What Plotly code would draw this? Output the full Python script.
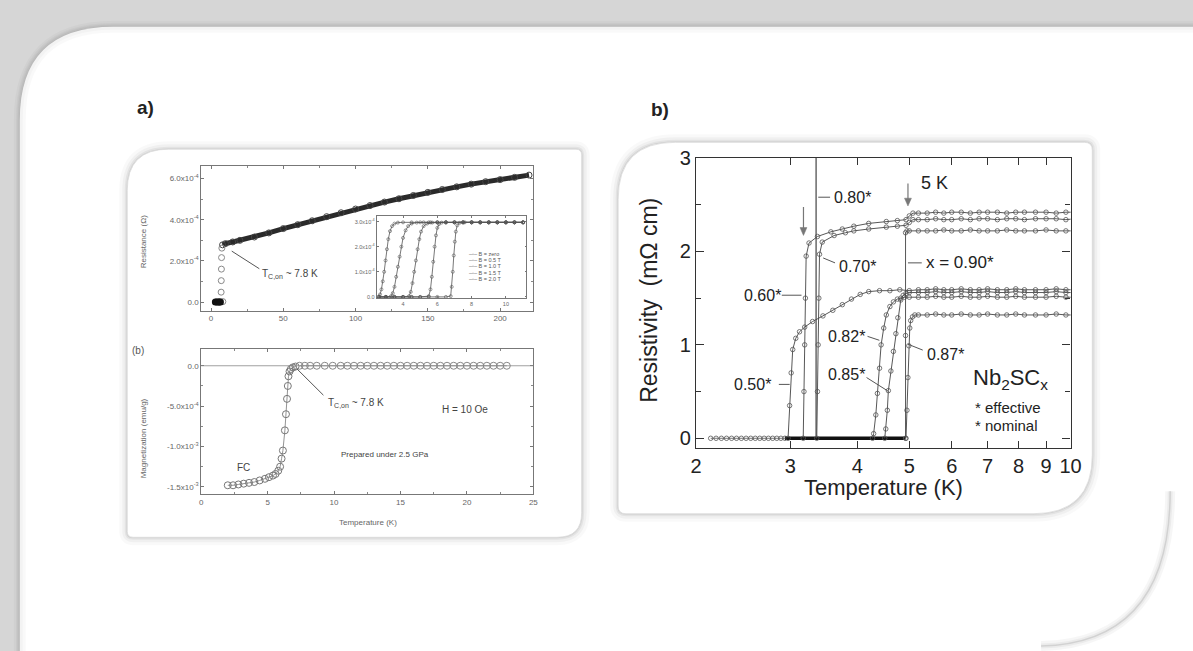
import plotly.graph_objects as go

W, H = 1193, 651
FONT = "Liberation Sans, Arial, sans-serif"

# ---------------- a) top: Resistance vs T ----------------
T_R_zero = [3.0, 4.0, 5.0, 5.8, 6.5]
R_zero = [0.0, 0.0, 0.0, 0.0, 0.0]
T_R_trans = [8.2, 7.0, 7.1, 7.2, 7.3, 7.5]
R_trans = [0.02, 0.48, 1.04, 1.6, 2.16, 2.62]
T_R_norm = [8, 10, 15, 20, 30, 40, 50, 60, 70, 80, 90, 100, 110, 120, 130, 140,
            150, 160, 170, 180, 190, 200, 210, 220]
R_norm = [2.78, 2.84, 2.92, 3.0, 3.16, 3.36, 3.57, 3.76, 3.95, 4.15, 4.34, 4.52,
          4.69, 4.86, 5.02, 5.18, 5.33, 5.47, 5.6, 5.73, 5.85, 5.95, 6.06, 6.17]
R_ticks = [0, 2, 4, 6]
R_ticktext = ["0.0", "2.0x10<sup>-4</sup>", "4.0x10<sup>-4</sup>", "6.0x10<sup>-4</sup>"]
TR_ticks = [0, 50, 100, 150, 200]

# inset: R(T) in fields
B_labels = ["B = zero", "B = 0.5 T", "B = 1.0 T", "B = 1.5 T", "B = 2.0 T"]
T_in_2T = [2.6, 2.66, 2.74, 2.82, 2.9, 2.98, 3.06, 3.14, 3.24, 3.36, 3.5, 3.7, 4.0, 4.5,
           5.0, 5.5, 6.0, 6.5, 7.0, 7.5, 8.0, 8.5, 9.0, 9.5, 10.0, 10.5, 11.0]
R_in_2T = [0.02, 0.1, 0.3, 0.62, 1.0, 1.45, 1.9, 2.3, 2.62, 2.82, 2.92, 2.96, 2.97, 2.97,
           2.97, 2.97, 2.97, 2.97, 2.97, 2.97, 2.97, 2.97, 2.97, 2.97, 2.97, 2.97, 2.97]
T_in_15T = [2.6, 3.0, 3.3, 3.4, 3.5, 3.6, 3.7, 3.8, 3.9, 4.0, 4.15, 4.3, 4.5, 4.8, 5.2,
            5.6, 6.0, 6.5, 7.0, 7.5, 8.0, 8.5, 9.0, 9.5, 10.0, 10.5, 11.0]
R_in_15T = [0.0, 0.0, 0.03, 0.15, 0.4, 0.8, 1.2, 1.6, 2.0, 2.35, 2.65, 2.82, 2.92, 2.96,
            2.97, 2.97, 2.97, 2.97, 2.97, 2.97, 2.97, 2.97, 2.97, 2.97, 2.97, 2.97, 2.97]
T_in_1T = [2.6, 3.0, 3.5, 4.0, 4.35, 4.45, 4.55, 4.65, 4.75, 4.85, 4.95, 5.05, 5.2, 5.4,
           5.7, 6.0, 6.5, 7.0, 7.5, 8.0, 8.5, 9.0, 9.5, 10.0, 10.5, 11.0]
R_in_1T = [0.0, 0.0, 0.0, 0.0, 0.03, 0.2, 0.55, 1.0, 1.45, 1.9, 2.3, 2.6, 2.82, 2.92,
           2.96, 2.97, 2.97, 2.97, 2.97, 2.97, 2.97, 2.97, 2.97, 2.97, 2.97, 2.97]
T_in_05T = [2.6, 3.0, 3.5, 4.0, 4.5, 5.0, 5.5, 5.6, 5.68, 5.76, 5.84, 5.92, 6.0, 6.1,
            6.25, 6.5, 7.0, 7.5, 8.0, 8.5, 9.0, 9.5, 10.0, 10.5, 11.0]
R_in_05T = [0.0, 0.0, 0.0, 0.0, 0.0, 0.0, 0.03, 0.3, 0.8, 1.4, 2.0, 2.45, 2.75, 2.9,
            2.96, 2.97, 2.97, 2.97, 2.97, 2.97, 2.97, 2.97, 2.97, 2.97, 2.97]
T_in_0T = [2.6, 3.0, 3.5, 4.0, 4.5, 5.0, 5.5, 6.0, 6.5, 6.78, 6.84, 6.9, 6.96, 7.02,
           7.08, 7.16, 7.3, 7.6, 8.0, 8.5, 9.0, 9.5, 10.0, 10.5, 11.0]
R_in_0T = [0.0, 0.0, 0.0, 0.0, 0.0, 0.0, 0.0, 0.0, 0.0, 0.03, 0.4, 1.0, 1.65, 2.2,
           2.6, 2.85, 2.95, 2.97, 2.97, 2.97, 2.97, 2.97, 2.97, 2.97, 2.97]
Rin_ticks = [0, 1, 2, 3]
Rin_ticktext = ["0.0", "1.0x10<sup>-4</sup>", "2.0x10<sup>-4</sup>", "3.0x10<sup>-4</sup>"]
Tin_ticks = [4, 6, 8, 10]

# ---------------- a) bottom: Magnetization vs T ----------------
T_M_sc = [2.0, 2.4, 2.8, 3.2, 3.6, 4.0, 4.4, 4.8, 5.1, 5.4, 5.6, 5.8, 5.94, 6.05, 6.15,
          6.3, 6.38, 6.46, 6.52, 6.57, 6.65, 6.75, 6.9, 7.1]
M_sc = [-1.48, -1.48, -1.47, -1.46, -1.45, -1.44, -1.42, -1.4, -1.38, -1.36, -1.34, -1.3,
        -1.25, -1.15, -1.05, -0.8, -0.6, -0.41, -0.25, -0.13, -0.07, -0.04, -0.02, -0.01]
T_M_n = [7.4, 7.8, 8.2, 8.7, 9.3, 9.9, 10.5, 11.0, 11.5, 12.0, 12.5, 13.0, 13.5, 14.0,
         14.5, 15.0, 15.5, 16.0, 16.5, 17.0, 17.5, 18.0, 18.5, 19.0, 19.5, 20.0, 20.5,
         21.0, 21.5, 22.0, 22.5, 23.0]
M_n = [0.0, 0.0, 0.0, 0.0, 0.0, 0.0, 0.0, 0.0, 0.0, 0.0, 0.0, 0.0, 0.0, 0.0, 0.0, 0.0,
       0.0, 0.0, 0.0, 0.0, 0.0, 0.0, 0.0, 0.0, 0.0, 0.0, 0.0, 0.0, 0.0, 0.0, 0.0, 0.0]
M_ticks = [0, -0.5, -1.0, -1.5]
M_ticktext = ["0.0", "-5.0x10<sup>-4</sup>", "-1.0x10<sup>-3</sup>", "-1.5x10<sup>-3</sup>"]
TM_ticks = [0, 5, 10, 15, 20, 25]

# ---------------- b) Resistivity of Nb2SCx ----------------
T_plat = [5.2, 5.4, 5.6, 5.8, 6.0, 6.25, 6.5, 6.75, 7.0, 7.3, 7.6, 7.9, 8.2, 8.6, 9.0,
          9.4, 9.8, 10.2]

T_050 = [2.97, 2.99, 3.01, 3.03, 3.07, 3.12, 3.19, 3.3, 3.45, 3.6, 3.75, 3.9, 4.05, 4.2,
         4.4, 4.6, 4.8, 5.0]
rho_050 = [0.0, 0.35, 0.7, 0.95, 1.07, 1.14, 1.19, 1.25, 1.31, 1.37, 1.43, 1.49, 1.54,
           1.57, 1.58, 1.58, 1.59, 1.58]
rho_050_plat = [1.59, 1.59, 1.60, 1.59, 1.59, 1.60, 1.59, 1.59, 1.60, 1.59, 1.59, 1.60,
                1.59, 1.59, 1.59, 1.60, 1.59, 1.59]

T_060 = [3.17, 3.18, 3.19, 3.2, 3.21, 3.25, 3.37, 3.57, 3.75, 3.94, 4.2, 4.53, 4.75,
         4.93, 5.0, 5.08]
rho_060 = [0.0, 0.5, 1.0, 1.5, 1.95, 2.09, 2.16, 2.21, 2.24, 2.27, 2.3, 2.32, 2.33, 2.34,
           2.38, 2.41]
rho_060_plat = [2.41, 2.41, 2.42, 2.41, 2.42, 2.42, 2.41, 2.42, 2.42, 2.42, 2.41, 2.42,
                2.42, 2.42, 2.42, 2.41, 2.42, 2.42]

T_070 = [3.36, 3.37, 3.38, 3.39, 3.4, 3.44, 3.62, 3.8, 3.94, 4.2, 4.53, 4.75, 4.93, 5.0,
         5.08]
rho_070 = [0.0, 0.5, 1.0, 1.5, 1.97, 2.1, 2.17, 2.2, 2.22, 2.24, 2.26, 2.27, 2.28, 2.31,
           2.34]
rho_070_plat = [2.34, 2.34, 2.35, 2.34, 2.34, 2.35, 2.34, 2.35, 2.35, 2.34, 2.35, 2.35,
                2.34, 2.35, 2.35, 2.35, 2.34, 2.35]

T_080 = [3.35, 3.35]
rho_080 = [0.0, 3.3]

T_082 = [4.27, 4.29, 4.33, 4.36, 4.4, 4.43, 4.48, 4.53, 4.6, 4.67, 4.75, 4.82, 4.9, 5.0]
rho_082 = [0.0, 0.05, 0.25, 0.48, 0.75, 1.0, 1.18, 1.32, 1.41, 1.46, 1.49, 1.5, 1.51, 1.51]
rho_082_plat = [1.51, 1.51, 1.52, 1.51, 1.51, 1.52, 1.51, 1.51, 1.52, 1.51, 1.51, 1.52,
                1.51, 1.51, 1.51, 1.52, 1.51, 1.51]

T_085 = [4.5, 4.52, 4.55, 4.57, 4.62, 4.67, 4.72, 4.76, 4.82, 4.87, 4.93, 5.0]
rho_085 = [0.0, 0.1, 0.3, 0.51, 0.72, 0.93, 1.12, 1.29, 1.48, 1.53, 1.55, 1.56]
rho_085_plat = [1.56, 1.56, 1.57, 1.56, 1.56, 1.57, 1.56, 1.56, 1.57, 1.56, 1.56, 1.57,
                1.56, 1.56, 1.56, 1.57, 1.56, 1.56]

T_087 = [4.93, 4.95, 4.97, 4.99, 5.01, 5.03, 5.07, 5.12]
rho_087 = [0.0, 0.3, 0.65, 0.99, 1.18, 1.26, 1.3, 1.32]
rho_087_plat = [1.32, 1.32, 1.33, 1.32, 1.32, 1.33, 1.32, 1.32, 1.33, 1.32, 1.32, 1.33,
                1.32, 1.32, 1.32, 1.33, 1.32, 1.32]

T_090 = [4.92, 4.92, 4.92, 4.95, 5.0]
rho_090 = [0.0, 1.1, 2.2, 2.22, 2.22]
rho_090_plat = [2.22, 2.22, 2.22, 2.23, 2.22, 2.22, 2.23, 2.22, 2.22, 2.22, 2.23, 2.22,
                2.22, 2.22, 2.23, 2.22, 2.22, 2.22]

T_base_lo = [2.13, 2.18, 2.23, 2.28, 2.33, 2.38, 2.43, 2.48, 2.53, 2.58, 2.63, 2.68,
             2.73, 2.78, 2.83, 2.88, 2.93]
rho_base_lo = [0.0, 0.0, 0.0, 0.0, 0.0, 0.0, 0.0, 0.0, 0.0, 0.0, 0.0, 0.0, 0.0, 0.0,
               0.0, 0.0, 0.0]
T_base_hi = [2.93, 3.1, 3.3, 3.5, 3.7, 3.9, 4.1, 4.3, 4.5, 4.7, 4.92]
rho_base_hi = [0.0, 0.0, 0.0, 0.0, 0.0, 0.0, 0.0, 0.0, 0.0, 0.0, 0.0]

Tb_ticks = [2, 3, 4, 5, 6, 7, 8, 9, 10]
Tb_ticktext = ["2", "3", "4", "5", "6", "7", "8", "9", "10"]
rho_ticks = [0, 1, 2, 3]


# ---------------- helpers ----------------
def fx(x):
    return x / W


def fy(y):
    return 1 - y / H


def P(x, y):
    return f"{fx(x):.5f},{fy(y):.5f}"


def rr_path(x0, y0, x1, y1, tl, tr, br, bl):
    return (f"M {P(x0, y0 + tl)} Q {P(x0, y0)} {P(x0 + tl, y0)} L {P(x1 - tr, y0)} "
            f"Q {P(x1, y0)} {P(x1, y0 + tr)} L {P(x1, y1 - br)} Q {P(x1, y1)} {P(x1 - br, y1)} "
            f"L {P(x0 + bl, y1)} Q {P(x0, y1)} {P(x0, y1 - bl)} Z")


shapes = []


def path_shape(path, line_color=None, width=0, fill=None, layer="below"):
    d = dict(type="path", path=path, xref="paper", yref="paper", layer=layer,
             line=dict(color=line_color if line_color else "rgba(0,0,0,0)", width=width))
    if fill:
        d["fillcolor"] = fill
    shapes.append(d)


def seg(x0, y0, x1, y1, color="#333", width=1, layer="above"):
    shapes.append(dict(type="line", xref="paper", yref="paper", x0=fx(x0), y0=fy(y0),
                       x1=fx(x1), y1=fy(y1), line=dict(color=color, width=width), layer=layer))


def down_arrow(x, y0, y1, color="#777"):
    seg(x, y0, x, y1 - 5, color, 1.2)
    path_shape(f"M {P(x - 3.5, y1 - 8)} L {P(x + 3.5, y1 - 8)} L {P(x, y1)} Z",
               color, 0.5, color, layer="above")


# outer page card
outer = (f"M {P(14, 700)} L {P(14, 111)} Q {P(14, 16)} {P(109, 16)} L {P(1250, 16)} "
         f"L {P(1250, 700)} Z")
for w_, c_ in [(8, "#cfcfcf"), (4, "#c8c8c8"), (1.5, "#c2c2c2")]:
    path_shape(outer, c_, w_)
path_shape(outer, None, 0, "white")
for w_ in [12, 6]:
    path_shape(outer, "rgba(0,0,0,0.025)", w_)
br_curve = f"M {P(1181, 490)} Q {P(1181, 645)} {P(1050, 648)}"
for w_, c_ in [(10, "rgba(0,0,0,0.035)"), (5, "rgba(0,0,0,0.045)"), (1.5, "#d2d2d2")]:
    path_shape(br_curve, c_, w_)

# left and right cards
for (x0, y0, x1, y1, tl, tr, br, bl) in [(123, 141, 584, 537, 42, 6, 25, 6),
                                         (621, 134, 1102, 513, 58, 8, 60, 8)]:
    p = rr_path(x0, y0, x1, y1, tl, tr, br, bl)
    for w_, c_ in [(16, "rgba(0,0,0,0.025)"), (10, "rgba(0,0,0,0.035)"),
                   (5, "rgba(0,0,0,0.05)"), (2, "rgba(0,0,0,0.07)")]:
        path_shape(p, c_, w_)
    path_shape(p, "#dcdcdc", 0.8, "white")

# ---------------- traces ----------------
fig = go.Figure()

# a) top main
fig.add_trace(go.Scatter(x=T_R_norm, y=R_norm, mode="lines+markers", xaxis="x", yaxis="y",
                         line=dict(color="#2a2a2a", width=5),
                         marker=dict(symbol="circle-open", size=6, color="#444", line=dict(width=1))))
fig.add_trace(go.Scatter(x=T_R_trans, y=R_trans, mode="markers", xaxis="x", yaxis="y",
                         marker=dict(symbol="circle-open", size=6, color="#888", line=dict(width=1))))
fig.add_trace(go.Scatter(x=T_R_zero, y=R_zero, mode="markers", xaxis="x", yaxis="y",
                         marker=dict(symbol="circle", size=7, color="#111")))

# inset
inset_sets = [(T_in_0T, R_in_0T), (T_in_05T, R_in_05T), (T_in_1T, R_in_1T),
              (T_in_15T, R_in_15T), (T_in_2T, R_in_2T)]
for tx, ry in inset_sets:
    fig.add_trace(go.Scatter(x=tx, y=ry, mode="lines+markers", xaxis="x2", yaxis="y2",
                             line=dict(color="#555", width=0.8),
                             marker=dict(symbol="circle-open", size=3, color="#555",
                                         line=dict(width=0.6))))

# a) bottom
fig.add_trace(go.Scatter(x=T_M_sc, y=M_sc, mode="lines+markers", xaxis="x3", yaxis="y3",
                         line=dict(color="#777", width=0.8),
                         marker=dict(symbol="circle-open", size=7, color="#777", line=dict(width=1))))
fig.add_trace(go.Scatter(x=T_M_n, y=M_n, mode="lines+markers", xaxis="x3", yaxis="y3",
                         line=dict(color="#888", width=0.8),
                         marker=dict(symbol="circle-open", size=7, color="#888", line=dict(width=1))))

# b)
mk = dict(symbol="circle-open", size=4.5, color="#555", line=dict(width=0.8))
ln = dict(color="#444", width=0.9)
fig.add_trace(go.Scatter(x=T_base_lo, y=rho_base_lo, mode="lines+markers", xaxis="x4", yaxis="y4",
                         line=dict(color="#777", width=1), marker=mk))
fig.add_trace(go.Scatter(x=T_base_hi, y=rho_base_hi, mode="lines", xaxis="x4", yaxis="y4",
                         line=dict(color="#111", width=3.5)))
fig.add_trace(go.Scatter(x=T_080, y=rho_080, mode="lines", xaxis="x4", yaxis="y4",
                         line=dict(color="#333", width=1.1)))
for tt, rr, rp in [(T_050, rho_050, rho_050_plat), (T_060, rho_060, rho_060_plat),
                   (T_070, rho_070, rho_070_plat), (T_082, rho_082, rho_082_plat),
                   (T_085, rho_085, rho_085_plat), (T_087, rho_087, rho_087_plat),
                   (T_090, rho_090, rho_090_plat)]:
    fig.add_trace(go.Scatter(x=tt + T_plat, y=rr + rp, mode="lines+markers",
                             xaxis="x4", yaxis="y4", line=ln, marker=mk))

# ---------------- annotations ----------------
anns = []


def ann(x, y, text, size, color="#222", xanchor="left", yanchor="middle", angle=0):
    anns.append(dict(x=fx(x), y=fy(y), xref="paper", yref="paper", text=text, showarrow=False,
                     xanchor=xanchor, yanchor=yanchor, textangle=angle,
                     font=dict(size=size, color=color, family=FONT)))


ann(131, 98, "<b>a)</b>", 19, "#222")
ann(652, 100, "<b>b)</b>", 19, "#222")

# left panel texts
ann(258, 268, "T<sub>C,on</sub> ~ 7.8 K", 10, "#444")
seg(229, 245, 257, 263, "#555", 1)
ann(325, 400, "T<sub>C,on</sub> ~ 7.8 K", 10, "#444")
seg(295, 365, 322, 392, "#555", 1)
ann(440, 407, "H = 10 Oe", 10, "#444")
ann(338, 453, "Prepared under 2.5 GPa", 8, "#444")
ann(232, 466, "FC", 10, "#444")
ann(134, 346, "(b)", 10, "#555", "center")
ann(139, 236, "Resistance (Ω)", 8, "#666", "center", "middle", -90)
ann(139, 436, "Magnetization (emu/g)", 8, "#666", "center", "middle", -90)
ann(367, 522, "Temperature (K)", 8, "#666", "center", "middle")
for i, lab in enumerate(B_labels):
    ann(468, 248 + i * 6.3, "–◦– " + lab, 5.5, "#555")

# right panel texts
ann(838, 190, "0.80*", 16)
seg(824, 190, 836, 190, "#555", 1)
ann(843, 261, "0.70*", 16)
seg(829, 252, 841, 257, "#555", 1)
ann(747, 290, "0.60*", 16)
seg(787, 290, 807, 290, "#555", 1)
ann(737, 381, "0.50*", 16)
seg(784, 381, 795, 381, "#555", 1)
ann(832, 332, "0.82*", 16)
seg(874, 332, 886, 336, "#555", 1)
ann(832, 371, "0.85*", 16)
seg(873, 374, 895, 388, "#555", 1)
ann(932, 350, "0.87*", 16)
seg(915, 340, 930, 346, "#555", 1)
ann(931, 257, "x = 0.90*", 17)
seg(915, 257, 929, 257, "#555", 1)
ann(926, 175, "5 K", 18)
down_arrow(809, 200, 229)
down_arrow(915, 176, 199)
ann(979, 375, "Nb<sub>2</sub>SC<sub>x</sub>", 22)
ann(981, 405, "* effective", 15)
ann(981, 423, "* nominal", 15)
ann(652, 295, "Resistivity  (mΩ cm)", 23, "#222", "center", "middle", -90)
ann(890, 486, "Temperature (K)", 22, "#222", "center", "middle")


# ---------------- axes ----------------
def left_axis(**kw):
    d = dict(showline=True, linecolor="#777", linewidth=0.8, mirror="ticks", ticks="inside",
             ticklen=3, tickcolor="#777", tickwidth=0.8, showgrid=False, zeroline=False,
             tickfont=dict(size=8, color="#666", family=FONT))
    d.update(kw)
    return d


layout = dict(
    width=W, height=H, autosize=False, margin=dict(l=0, r=0, t=0, b=0),
    paper_bgcolor="#d6d6d6", plot_bgcolor="rgba(0,0,0,0)", showlegend=False,
    shapes=shapes, annotations=anns,
    xaxis=left_axis(domain=[fx(198), fx(535)], range=[-6.8, 223], tickvals=TR_ticks,
                    minor=dict(ticks="inside", ticklen=2, tickcolor="#888", dtick=25),
                    anchor="y"),
    yaxis=left_axis(domain=[fy(306), fy(158)], range=[-0.43, 6.62], tickvals=R_ticks,
                    ticktext=R_ticktext,
                    minor=dict(ticks="inside", ticklen=2, tickcolor="#888", dtick=1),
                    anchor="x"),
    xaxis2=left_axis(domain=[fx(376), fx(528)], range=[2.46, 11.2], tickvals=Tin_ticks,
                     ticklen=2, tickfont=dict(size=5.5, color="#666", family=FONT),
                     anchor="y2"),
    yaxis2=left_axis(domain=[fy(293), fy(209)], range=[-0.05, 3.23], tickvals=Rin_ticks,
                     ticktext=Rin_ticktext, ticklen=2,
                     tickfont=dict(size=5.5, color="#666", family=FONT), anchor="x2"),
    xaxis3=left_axis(domain=[fx(198), fx(535)], range=[0, 25], tickvals=TM_ticks,
                     minor=dict(ticks="inside", ticklen=2, tickcolor="#888", dtick=2.5),
                     anchor="y3"),
    yaxis3=left_axis(domain=[fy(493), fy(345)], range=[-1.59, 0.206], tickvals=M_ticks,
                     ticktext=M_ticktext,
                     minor=dict(ticks="inside", ticklen=2, tickcolor="#888", dtick=0.25),
                     anchor="x3"),
    xaxis4=dict(domain=[fx(700), fx(1080)], type="log", range=[0.30103, 1.0],
                tickvals=Tb_ticks, ticktext=Tb_ticktext, showline=True, linecolor="#333",
                linewidth=1.3, mirror="ticks", ticks="inside", ticklen=7, tickcolor="#333",
                showgrid=False, zeroline=False,
                tickfont=dict(size=20, color="#222", family=FONT), anchor="y4"),
    yaxis4=dict(domain=[fy(446), fy(150)], range=[-0.105, 3.0], tickvals=rho_ticks,
                showline=True, linecolor="#333", linewidth=1.3, mirror="ticks",
                ticks="inside", ticklen=8, tickcolor="#333", showgrid=False, zeroline=False,
                minor=dict(ticks="inside", ticklen=5, tickcolor="#333", dtick=0.5),
                tickfont=dict(size=20, color="#222", family=FONT), anchor="x4"),
)
fig.update_layout(**layout)

# reference line at M = 0 in bottom-left panel
fig.add_shape(type="line", xref="x3 domain", yref="y3", x0=0, x1=1, y0=0, y1=0,
              line=dict(color="#888", width=0.8))

fig.write_html("out.html", config={"displayModeBar": False},
               post_script="document.body.style.margin='0px';"
                           "document.body.style.overflow='hidden';"
                           "var gd=document.getElementById('{plot_id}');"
                           "gd.style.position='fixed';gd.style.left='0px';gd.style.top='0px';")
